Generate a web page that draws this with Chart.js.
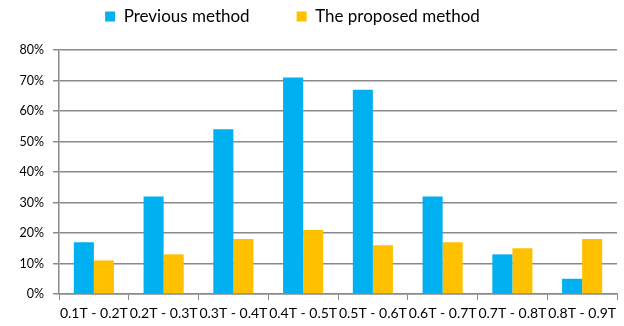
<!DOCTYPE html>
<html lang="en">
<head>
  <meta charset="UTF-8">
  <title>Method comparison</title>
  <script src="https://cdn.jsdelivr.net/npm/chart.js"></script>
  <style>
    html, body { margin: 0; padding: 0; background: #fff; }
    #wrap { width: 624px; height: 326px; }
  </style>
</head>
<body>
<div id="wrap"><canvas id="methodChart"></canvas></div>
<script>
  const ranges = ['0.1T - 0.2T', '0.2T - 0.3T', '0.3T - 0.4T', '0.4T - 0.5T',
                  '0.5T - 0.6T', '0.6T - 0.7T', '0.7T - 0.8T', '0.8T - 0.9T'];
  const previousMethod = [17, 32, 54, 71, 67, 32, 13, 5];
  const proposedMethod = [11, 13, 18, 21, 16, 17, 15, 18];
  const percentTicks = [0, 10, 20, 30, 40, 50, 60, 70, 80];

  const gridGray = '#8a8a8a';
  const fontFamily = 'Lato, "Liberation Sans", sans-serif';
  const legendPad = 47;

  // wide gap between legend items, but keep the legend row near the top
  const legendTweak = {
    id: 'legendTweak',
    beforeInit(chart) {
      const fit = chart.legend.fit;
      chart.legend.fit = function () {
        fit.bind(chart.legend)();
        this.height += 15 - (legendPad - 8);
      };
    },
    afterLayout(chart) {
      const lg = chart.legend;
      lg.left -= 16;
      lg.right -= 16;
      lg.top -= legendPad - 8;
    }
  };

  new Chart(document.getElementById('methodChart'), {
    type: 'bar',
    data: {
      labels: ranges,
      datasets: [
        { label: 'Previous method', data: previousMethod, backgroundColor: '#00B0F0' },
        { label: 'The proposed method', data: proposedMethod, backgroundColor: '#FFC000' }
      ]
    },
    options: {
      responsive: true,
      maintainAspectRatio: false,
      animation: false,
      datasets: { bar: { categoryPercentage: 0.575, barPercentage: 1.0 } },
      layout: { padding: { left: 0, right: 7, top: 0, bottom: 0 } },
      plugins: {
        legend: {
          position: 'top',
          labels: {
            boxWidth: 10, boxHeight: 10, padding: legendPad,
            color: '#000',
            font: { family: fontFamily, size: 17 },
            generateLabels(chart) {
              const items = Chart.defaults.plugins.legend.labels.generateLabels(chart);
              items.forEach(it => { it.lineWidth = 0; });
              return items;
            }
          }
        },
        tooltip: { enabled: false }
      },
      scales: {
        x: {
          afterFit(scale) { scale.height = 32; },
          grid: { offset: true, drawOnChartArea: false, tickLength: 6, color: gridGray },
          border: { color: gridGray, width: 1.5 },
          ticks: {
            autoSkip: false, maxRotation: 0, minRotation: 0, padding: 5,
            color: '#000', font: { family: fontFamily, size: 14 }
          }
        },
        y: {
          min: 0, max: 80,
          afterFit(scale) { scale.width = 59; },
          afterBuildTicks(scale) { scale.ticks = percentTicks.map(v => ({ value: v })); },
          grid: { color: gridGray, lineWidth: 1.5, tickLength: 6 },
          border: { color: gridGray, width: 1.5 },
          ticks: {
            padding: 9, color: '#000',
            font: { family: fontFamily, size: 12.5 },
            callback: v => v + '%'
          }
        }
      }
    },
    plugins: [legendTweak]
  });
</script>
</body>
</html>
